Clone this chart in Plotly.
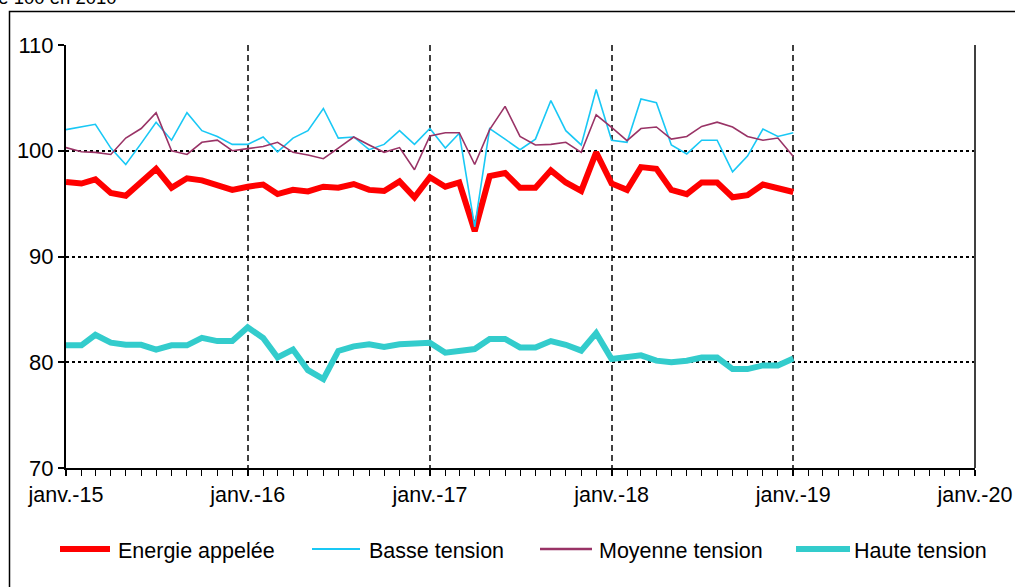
import plotly.graph_objects as go
import pandas as pd

months = [d.strftime("%Y-%m-%d") for d in pd.date_range("2015-01-01", "2019-01-01", freq="MS")]

energie_appelee = [97.05, 96.9, 97.3, 96.0, 95.75, 97.1, 98.3, 96.5, 97.4, 97.2,
                   96.8, 96.3, 96.6, 96.8, 95.9, 96.3, 96.15, 96.6, 96.5, 96.85,
                   96.3, 96.2, 97.1, 95.6, 97.5, 96.6, 97.0, 92.4, 97.6, 97.9,
                   96.5, 96.5, 98.15, 97.0, 96.2, 99.85, 96.9, 96.3, 98.45, 98.3,
                   96.3, 95.9, 97.0, 97.0, 95.6, 95.8, 96.8, 96.4, 96.1]
basse_tension = [102.0, 102.3, 102.5, 100.25, 98.7, 100.7, 102.7, 101.0, 103.6, 101.9,
                 101.35, 100.6, 100.6, 101.3, 99.9, 101.2, 101.9, 104.0, 101.2, 101.3,
                 100.1, 100.6, 101.9, 100.6, 102.1, 100.25, 101.65, 92.8, 102.1, 101.1,
                 100.1, 101.1, 104.75, 101.9, 100.55, 105.8, 101.0, 100.8, 104.9, 104.55,
                 100.55, 99.7, 101.0, 101.0, 98.0, 99.5, 102.05, 101.35, 101.7]
moyenne_tension = [100.3, 99.9, 99.85, 99.65, 101.2, 102.1, 103.6, 100.0, 99.65, 100.8,
                   101.0, 100.0, 100.2, 100.4, 100.8, 99.85, 99.6, 99.25, 100.25, 101.3,
                   100.55, 99.85, 100.3, 98.2, 101.4, 101.7, 101.7, 98.7, 102.0, 104.2,
                   101.35, 100.55, 100.6, 100.8, 99.85, 103.4, 102.2, 100.95, 102.1, 102.25,
                   101.1, 101.35, 102.3, 102.7, 102.25, 101.35, 101.0, 101.2, 99.45]
haute_tension = [81.6, 81.6, 82.6, 81.85, 81.65, 81.65, 81.2, 81.6, 81.6, 82.3,
                 82.0, 82.0, 83.3, 82.3, 80.45, 81.2, 79.25, 78.4, 81.07, 81.5,
                 81.7, 81.45, 81.7, 81.75, 81.85, 80.9, 81.1, 81.25, 82.2, 82.2,
                 81.4, 81.4, 82.0, 81.65, 81.1, 82.75, 80.3, 80.5, 80.65, 80.15,
                 80.0, 80.15, 80.45, 80.45, 79.35, 79.35, 79.7, 79.7, 80.35]

series_names = ["Energie appelée", "Basse tension", "Moyenne tension", "Haute tension"]
tick_dates = ["2015-01-01", "2016-01-01", "2017-01-01", "2018-01-01", "2019-01-01", "2020-01-01"]
tick_labels = ["janv.-15", "janv.-16", "janv.-17", "janv.-18", "janv.-19", "janv.-20"]
y_ticks = [70, 80, 90, 100, 110]
title_text = "Indice base 100 en 2010"

W, H = 1015, 587
L, R, T, B = 66, 975, 45, 468


def px_x(p):
    return (p - L) / (R - L)


def px_y(p):
    return (B - p) / (B - T)


colors = ["#FF0000", "#19C8F5", "#993366", "#33CCCC"]
widths = [6, 1.6, 1.6, 6]
values = [energie_appelee, basse_tension, moyenne_tension, haute_tension]

fig = go.Figure()
for name, vals, c, w in zip(series_names, values, colors, widths):
    fig.add_trace(go.Scatter(x=months, y=vals, mode="lines", name=name,
                             line=dict(color=c, width=w), showlegend=False))

font = "Liberation Sans, Arial, sans-serif"
FS = 21.5

fig.update_layout(
    width=W, height=H,
    margin=dict(l=L, r=W - R, t=T, b=H - B, pad=0, autoexpand=False),
    plot_bgcolor="white", paper_bgcolor="white",
    font=dict(family=font, size=FS, color="#000000"),
    showlegend=False,
)
fig.update_xaxes(
    type="date", range=["2015-01-01", "2020-01-01"], automargin=False,
    tickvals=tick_dates, ticktext=tick_labels,
    ticks="outside", ticklen=6, tickwidth=1.5, tickcolor="#000000",
    showline=True, linecolor="#000000", linewidth=2,
    showgrid=True, gridcolor="#404040", gridwidth=1.5, griddash="6px,4px",
    minor=dict(dtick="M1", tick0="2015-01-01", ticks="outside", ticklen=6,
               tickwidth=1.2, tickcolor="#000000", showgrid=False),
    tickfont=dict(size=FS, family=font, color="#000000"),
    zeroline=False, fixedrange=True,
)
fig.update_yaxes(
    range=[70, 110], tickvals=y_ticks, automargin=False,
    ticks="outside", ticklen=6, tickwidth=1.5, tickcolor="#000000",
    showline=True, linecolor="#000000", linewidth=2,
    showgrid=True, gridcolor="#000000", gridwidth=1.5, griddash="dot",
    tickfont=dict(size=22, family=font, color="#000000"),
    zeroline=False, fixedrange=True,
)

shapes = []
shapes.append(dict(type="line", xref="paper", yref="paper", x0=1, x1=1, y0=0, y1=1,
                   line=dict(color="#404040", width=2)))
shapes.append(dict(type="rect", xref="paper", yref="paper",
                   x0=px_x(9.5), x1=px_x(1030), y0=px_y(600), y1=px_y(11.5),
                   line=dict(color="#000000", width=1.5), layer="below"))

leg_y = 549
leg_lines = [(60, 110), (312, 360), (540, 592), (796, 850)]
leg_text_x = [116, 367, 597, 852]
leg_widths = [6, 2, 2.5, 6]
annotations = []
for (x0, x1), tx, c, w, name in zip(leg_lines, leg_text_x, colors, leg_widths, series_names):
    shapes.append(dict(type="line", xref="paper", yref="paper",
                       x0=px_x(x0), x1=px_x(x1), y0=px_y(leg_y), y1=px_y(leg_y),
                       line=dict(color=c, width=w)))
    annotations.append(dict(xref="paper", yref="paper", x=px_x(tx), y=px_y(leg_y + 2),
                            text=name, showarrow=False, xanchor="left", yanchor="middle",
                            font=dict(size=FS, family=font, color="#000000")))

annotations.append(dict(xref="paper", yref="paper", x=px_x(119), y=px_y(10),
                        text=title_text, showarrow=False, xanchor="right", yanchor="bottom",
                        font=dict(size=18.5, family=font, color="#000000")))

fig.update_layout(shapes=shapes, annotations=annotations)

fig.write_html("out.html", config={"displayModeBar": False},
               post_script="document.body.style.margin='0';document.body.style.padding='0';")
